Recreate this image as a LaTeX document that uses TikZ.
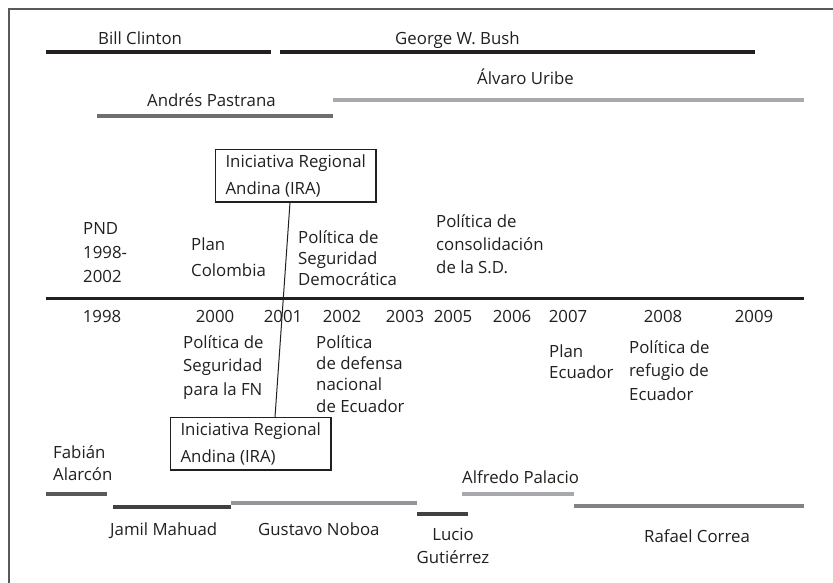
\documentclass[tikz,border=0pt]{standalone}
\usepackage{fontspec}
\setmainfont{Open Sans}
\definecolor{cblack}{HTML}{231F20}
\definecolor{cframe}{HTML}{58595B}
\definecolor{cdark}{HTML}{6D6E70}
\definecolor{clight}{HTML}{A7A9AC}
\definecolor{cjamil}{HTML}{414042}
\definecolor{cnoboa}{HTML}{939598}
\definecolor{ccorrea}{HTML}{808285}
\tikzset{
  lbl/.style={inner sep=0pt, anchor=base west, align=left, text=cblack},
  yr/.style={inner sep=0pt, anchor=base, text=cblack},
  pres/.style={line width=4pt},
  irabox/.style={draw=cblack, line width=1.1pt, align=left, inner xsep=10pt, inner ysep=5pt, text=cblack,
    font=\fontsize{16.8}{27}\selectfont},
}
\newcommand{\fs}[1]{\fontsize{16.8}{#1}\selectfont}
\begin{document}
\begin{tikzpicture}[x=1pt,y=-1pt]
\useasboundingbox (0,0) rectangle (833,583);
\fill[white] (0,0) rectangle (833,583);
% frame
\draw[cframe, line width=2pt] (9,583) -- (9,9) -- (833,9);
% US presidents
\draw[pres, cblack] (46,52) -- (271,52);
\draw[pres, cblack] (280,52) -- (755,52);
\node[lbl, font=\fs{22}] (clinton) at (98,45) {Bill Clinton};
\node[lbl, font=\fs{22}] (bush) at (395,45) {George W. Bush};
% Colombian presidents
\draw[pres, cdark] (97,116) -- (333,116);
\draw[pres, clight] (333,100) -- (804,100);
\node[lbl, font=\fs{22}] (pastrana) at (147,107) {Andrés Pastrana};
\node[lbl, font=\fs{22}] (uribe) at (477,85) {Álvaro Uribe};
% IRA boxes
\node[irabox, anchor=north west] (ira1) at (215,149) {Iniciativa Regional\\Andina (IRA)};
\node[irabox, anchor=north west] (ira2) at (170,417) {Iniciativa Regional\\Andina (IRA)};
\draw[cblack, line width=1pt] ([xshift=75pt]ira1.south west) -- ([xshift=105pt]ira2.north west);
% timeline
\draw[cblack, line width=3pt] (46,298) -- (804,298);
% Colombian policies (anchor = baseline of last line)
\node[lbl, font=\fs{24}] (pnd) at (83,282) {PND\\1998-\\2002};
\node[lbl, font=\fs{26}] (plancol) at (191,276) {Plan\\Colombia};
\node[lbl, font=\fs{21}] (psd) at (298,285) {Política de\\Seguridad\\Democrática};
\node[lbl, font=\fs{23}] (pcsd) at (436,273) {Política de\\consolidación\\de la S.D.};
% years
\foreach \yy/\xx in {1998/102,2000/215,2001/283,2002/342,2003/405,2005/453,2006/512,2007/568,2008/663,2009/754}
  \node[yr, font=\fs{22}] (y\yy) at (\xx,322) {\yy};
% Ecuadorian policies
\node[lbl, font=\fs{23.5}] (psfn) at (183,395) {Política de\\Seguridad\\para la FN};
\node[lbl, font=\fs{21.3}] (pdne) at (316,412) {Política\\de defensa\\nacional\\de Ecuador};
\node[lbl, font=\fs{21}] (planec) at (549,378) {Plan\\Ecuador};
\node[lbl, font=\fs{23.5}] (pref) at (629,400) {Política de\\refugio de\\Ecuador};
% Ecuadorian presidents
\draw[pres, cframe] (46,494) -- (107,494);
\draw[pres, cjamil] (113,507) -- (231,507);
\draw[pres, cnoboa] (231,503) -- (417,503);
\draw[pres, cjamil] (417,514) -- (468,514);
\draw[pres, clight] (462,494) -- (574,494);
\draw[pres, ccorrea] (574,506) -- (804,506);
\node[lbl, font=\fs{22}] (alarcon) at (53,480) {Fabián\\Alarcón};
\node[lbl, font=\fs{22}] (mahuad) at (110,535) {Jamil Mahuad};
\node[lbl, font=\fs{22}] (noboa) at (258,535) {Gustavo Noboa};
\node[lbl, font=\fs{23}, anchor=base, align=center] (lucio) at (453,563) {Lucio\\Gutiérrez};
\node[lbl, font=\fs{22}] (palacio) at (462,483) {Alfredo Palacio};
\node[lbl, font=\fs{22}] (correa) at (644,542) {Rafael Correa};
\end{tikzpicture}
\end{document}
